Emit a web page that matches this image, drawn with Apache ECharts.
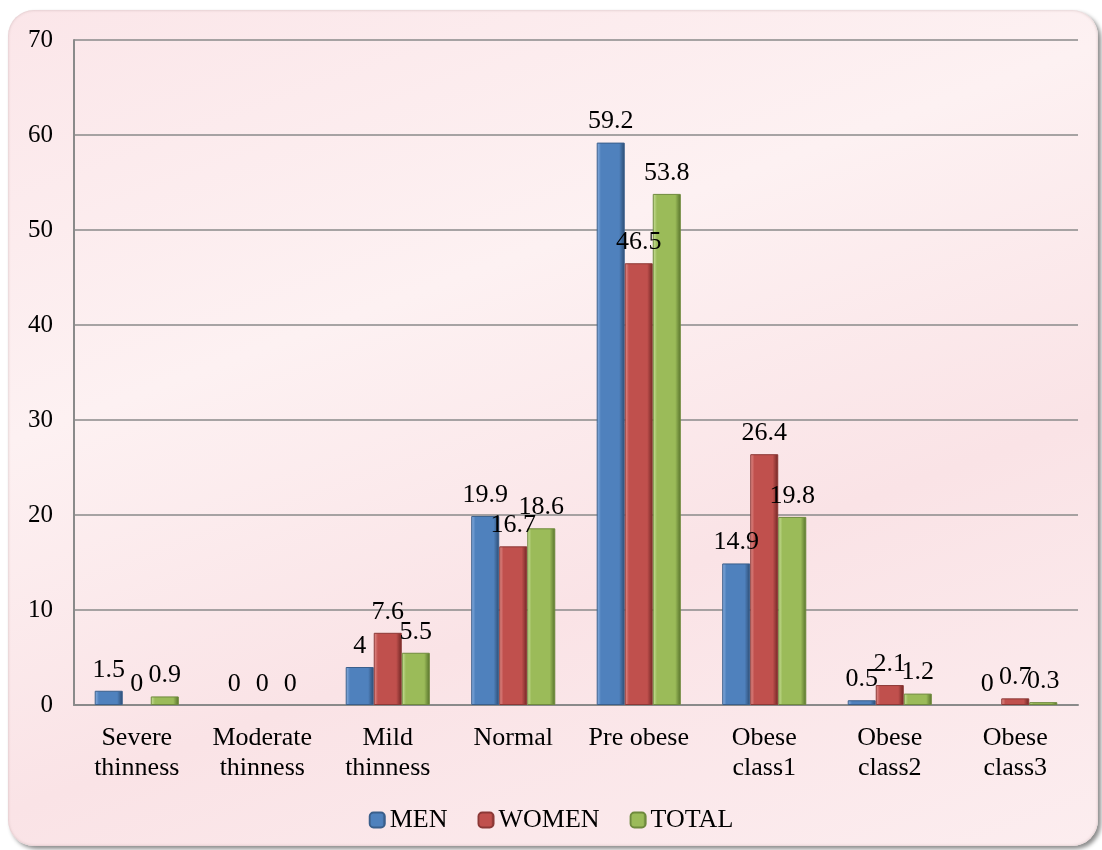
<!DOCTYPE html>
<html>
<head>
<meta charset="utf-8">
<script src="https://cdn.jsdelivr.net/npm/echarts@6/dist/echarts.min.js"></script>
<style>
  html, body { margin: 0; padding: 0; background: #ffffff; }
  #frame {
    position: absolute; left: 8px; top: 10px; width: 1090px; height: 836px;
    border-radius: 26px;
    background: linear-gradient(160deg, #fbe6e9 0%, #fdf1f2 35%, #fae3e6 65%, #fcedef 100%);
    box-shadow: 3px 3px 4px rgba(0,0,0,0.45), inset 0 0 3px rgba(150,120,120,0.4);
  }
  #chart { position: absolute; left: 0; top: 0; width: 1102px; height: 850px; }
</style>
</head>
<body>
<div id="frame"></div>
<div id="chart"></div>
<script>
// 分类与数据
var categories = ['Severe\nthinness', 'Moderate\nthinness', 'Mild\nthinness', 'Normal',
                  'Pre obese', 'Obese\nclass1', 'Obese\nclass2', 'Obese\nclass3'];
var menData   = [1.5, 0, 4, 19.9, 59.2, 14.9, 0.5, 0];
var womenData = [0, 0, 7.6, 16.7, 46.5, 26.4, 2.1, 0.7];
var totalData = [0.9, 0, 5.5, 18.6, 53.8, 19.8, 1.2, 0.3];
var seriesNames = ['MEN', 'WOMEN', 'TOTAL'];

var serif = '"Liberation Serif", "Times New Roman", serif';

// 柱子渐变色 (左亮右暗)
function barColor(light, mid, dark) {
    return new echarts.graphic.LinearGradient(0, 0, 1, 0, [
        { offset: 0, color: light },
        { offset: 0.15, color: mid },
        { offset: 0.8, color: mid },
        { offset: 1, color: dark }
    ]);
}

function makeSeries(name, data, light, mid, dark, border) {
    // 值为0的柱子不画边框
    var items = data.map(function (v) {
        return v === 0 ? { value: v, itemStyle: { borderWidth: 0 } } : v;
    });
    return {
        name: name,
        type: 'bar',
        data: items,
        barGap: '0%',
        barCategoryGap: '33%',
        itemStyle: { color: barColor(light, mid, dark), borderColor: border, borderWidth: 1 },
        label: {
            show: true, position: 'top', distance: 8,
            fontFamily: serif, fontSize: 26, color: '#000'
        }
    };
}

var chart = echarts.init(document.getElementById('chart'));
var option = {
    backgroundColor: 'transparent',
    animation: false,
    grid: { left: 74, right: 24, top: 40, bottom: 145 },
    legend: {
        bottom: 12, left: 'center',
        itemWidth: 15, itemHeight: 15, itemGap: 30,
        textStyle: { fontFamily: serif, fontSize: 26, color: '#000' },
        data: seriesNames
    },
    xAxis: {
        type: 'category',
        data: categories,
        axisTick: { show: false },
        axisLine: { lineStyle: { color: '#8a8a8a', width: 2 } },
        axisLabel: {
            fontFamily: serif, fontSize: 26, color: '#000',
            margin: 18, lineHeight: 30, interval: 0
        }
    },
    yAxis: {
        type: 'value',
        min: 0, max: 70, interval: 10,
        axisLine: { show: true, lineStyle: { color: '#8a8a8a', width: 2 } },
        axisTick: { show: false },
        splitLine: { lineStyle: { color: '#8a8a8a', width: 1.5 } },
        axisLabel: { fontFamily: serif, fontSize: 25, color: '#000', margin: 21 }
    },
    series: [
        makeSeries('MEN', menData, '#8fb4e3', '#4f81bd', '#2b4a70', '#3a5f8c'),
        makeSeries('WOMEN', womenData, '#e59592', '#c0504d', '#6e2523', '#8c3836'),
        makeSeries('TOTAL', totalData, '#cde39f', '#9bbb59', '#55702a', '#6f8a3d')
    ]
};
chart.setOption(option);
</script>
</body>
</html>
